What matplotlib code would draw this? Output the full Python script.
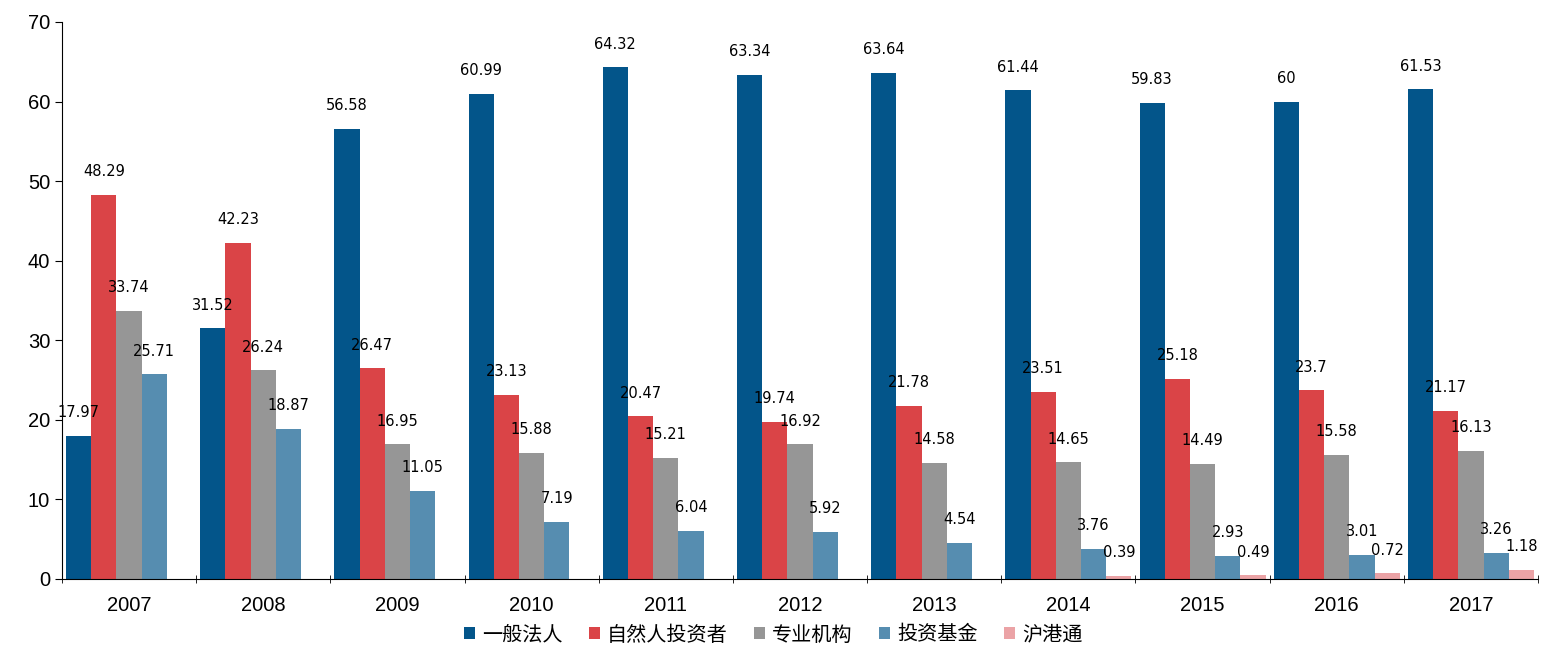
import matplotlib.pyplot as plt
import numpy as np

plt.rcParams['font.family'] = ['Liberation Sans', 'Noto Sans CJK SC', 'DejaVu Sans']

years = ['2007', '2008', '2009', '2010', '2011', '2012', '2013', '2014', '2015', '2016', '2017']
series_names = ['一般法人', '自然人投资者', '专业机构', '投资基金', '沪港通']

general_corp = [17.97, 31.52, 56.58, 60.99, 64.32, 63.34, 63.64, 61.44, 59.83, 60, 61.53]
individual = [48.29, 42.23, 26.47, 23.13, 20.47, 19.74, 21.78, 23.51, 25.18, 23.7, 21.17]
professional = [33.74, 26.24, 16.95, 15.88, 15.21, 16.92, 14.58, 14.65, 14.49, 15.58, 16.13]
funds = [25.71, 18.87, 11.05, 7.19, 6.04, 5.92, 4.54, 3.76, 2.93, 3.01, 3.26]
hk_connect = [None, None, None, None, None, None, None, 0.39, 0.49, 0.72, 1.18]

colors = ['#03558A', '#DA4447', '#969696', '#568DB0', '#EBA3A6']
all_series = [general_corp, individual, professional, funds, hk_connect]

fig = plt.figure(figsize=(15.45, 6.54), dpi=100)
ax = fig.add_axes([0.0401, 0.1147, 0.9554, 0.8517])

x = np.arange(len(years))
w = 0.188
for i, (vals, c, name) in enumerate(zip(all_series, colors, series_names)):
    pos = x + (i - 2) * w
    v = [0 if val is None else val for val in vals]
    ax.bar(pos, v, width=w, color=c, label=name, linewidth=0)
    # value labels above each bar
    for p, val in zip(pos, vals):
        if val is None:
            continue
        ax.text(p, val + 2.9, f'{val:g}', ha='center', va='center', fontsize=10.5,
                family=['DejaVu Sans'], color='black')

ax.set_xlim(-0.5, len(years) - 0.5)
ax.set_ylim(0, 70)
ax.set_yticks(range(0, 71, 10))
ax.set_xticks(x)
ax.set_xticklabels(years, fontsize=14.5)
ax.set_xticks(np.arange(-0.5, len(years), 1), minor=True)
ax.tick_params(axis='x', which='major', length=0, pad=12)
ax.tick_params(axis='x', which='minor', length=6, direction='inout')
ax.tick_params(axis='y', labelsize=14.5, length=5)
ax.spines['top'].set_visible(False)
ax.spines['right'].set_visible(False)

fig.legend(loc='center', bbox_to_anchor=(0.5005, 0.029), ncol=5, frameon=False,
           handlelength=0.55, handleheight=0.55, handletextpad=0.35,
           columnspacing=1.3, prop={'family': ['Noto Sans CJK SC'], 'size': 14.5})

fig.savefig('out.png', dpi=100)
